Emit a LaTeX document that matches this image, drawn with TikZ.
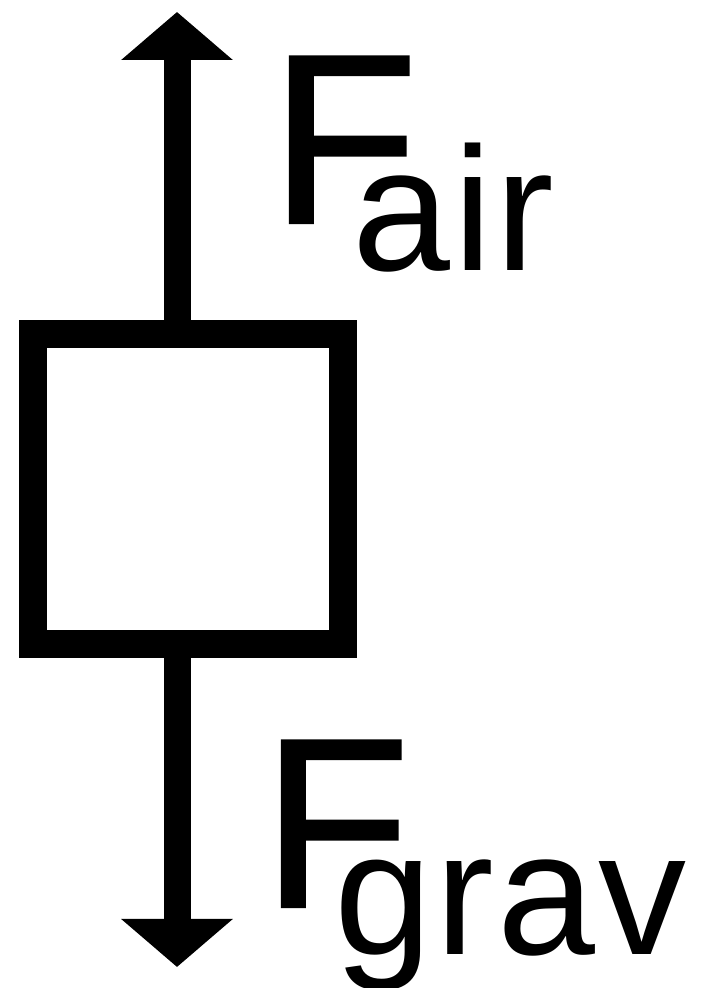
\documentclass[tikz,border=0pt]{standalone}
\usepackage{fontspec}
\setmainfont{Liberation Sans}
\newfontfamily\mainsym[FakeBold=1]{Liberation Sans}
\newfontfamily\subfont[LetterSpace=2]{Liberation Sans}
\usetikzlibrary{arrows.meta}

\newcommand{\subsize}{\subfont\fontsize{176}{176}\selectfont}
\newcommand{\forcesym}[2]{F\kern#1\raisebox{-48pt}{\subsize #2}}

\begin{document}
\begin{tikzpicture}[x=1pt, y=1pt,
    force/.style={line width=27pt, -{Triangle[width=109pt, length=48pt]}},
    forcelabel/.style={inner sep=0pt, anchor=base west, font=\mainsym\fontsize{242}{242}\selectfont}]
    \useasboundingbox (0,0) rectangle (701,988);

    % Body
    \node[draw, line width=28pt, minimum width=310pt, minimum height=310pt, inner sep=0pt] (box) at (188,499) {};

    % Arrow tips
    \coordinate (airtip) at (177,976);
    \coordinate (gravtip) at (177,21);

    % Forces
    \draw[force] (airtip |- box.north) -- (airtip);
    \draw[force] (gravtip |- box.south) -- (gravtip);

    % Labels
    \node[forcelabel] (airlabel) at (270,765) {\forcesym{-66pt}{air}};
    \node[forcelabel] (gravlabel) at (262,81) {\forcesym{-76pt}{grav}};
\end{tikzpicture}
\end{document}
